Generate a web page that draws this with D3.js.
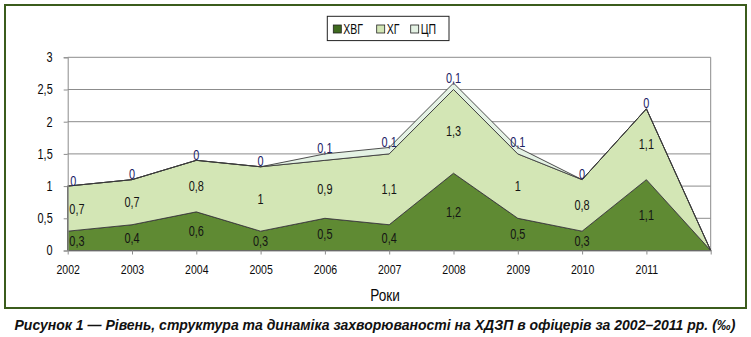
<!DOCTYPE html>
<html>
<head>
<meta charset="utf-8">
<script src="https://cdn.jsdelivr.net/npm/d3@7"></script>
<style>
  html, body { margin: 0; padding: 0; background: #fff; }
  svg { display: block; }
  text { font-family: "Liberation Sans", Arial, sans-serif; }
</style>
</head>
<body>
<svg id="chart" width="751" height="337"></svg>
<script>
// Years on the category axis (the final empty slot closes the areas at zero)
const years = ["2002", "2003", "2004", "2005", "2006", "2007", "2008", "2009", "2010", "2011", ""];
// Stacked series, ‰
const hvg = [0.3, 0.4, 0.6, 0.3, 0.5, 0.4, 1.2, 0.5, 0.3, 1.1, 0];
const hg  = [0.7, 0.7, 0.8, 1.0, 0.9, 1.1, 1.3, 1.0, 0.8, 1.1, 0];
const cp  = [0,   0,   0,   0,   0.1, 0.1, 0.1, 0.1, 0,   0,   0];
const seriesNames = ["ХВГ", "ХГ", "ЦП"];
const seriesColors = ["#5f8a33", "#d3e6b5", "#e4f2e4"];
const yTicks = [0, 0.5, 1, 1.5, 2, 2.5, 3];
const axisTitle = "Роки";
const caption = "Рисунок 1 — Рівень, структура та динаміка захворюваності на ХДЗП в офіцерів за 2002–2011 рр. (‰)";

const svg = d3.select("#chart");
const fmt = v => String(v).replace(".", ",");

// Narrow the glyphs of a text selection horizontally
function condense(sel, f) {
  sel.each(function () {
    const len = this.getComputedTextLength();
    if (len > 0) {
      d3.select(this).attr("textLength", len * f).attr("lengthAdjust", "spacingAndGlyphs");
    }
  });
  return sel;
}

// Outer frame
svg.append("rect")
  .attr("x", 5).attr("y", 5).attr("width", 741).attr("height", 303)
  .attr("fill", "none").attr("stroke", "#3b5c1c").attr("stroke-width", 2);

const rows = years.map((y, i) => ({ i, ХВГ: hvg[i], ХГ: hg[i], ЦП: cp[i] }));
const stacked = d3.stack().keys(seriesNames)(rows);

const x = d3.scalePoint().domain(d3.range(years.length)).range([67.7, 710.7]);
const y = d3.scaleLinear().domain([0, 3]).range([250.5, 57.3]);

// Grid lines
svg.append("g").selectAll("line").data(yTicks.filter(t => t > 0)).join("line")
  .attr("x1", 67.7).attr("x2", 710.7)
  .attr("y1", d => y(d)).attr("y2", d => y(d))
  .attr("stroke", "#8c8c8c").attr("stroke-width", 1);
// Plot area right edge
svg.append("line")
  .attr("x1", 710.7).attr("x2", 710.7).attr("y1", y(3)).attr("y2", y(0))
  .attr("stroke", "#8c8c8c");

// Stacked areas
const area = d3.area()
  .x(d => x(d.data.i))
  .y0(d => y(d[0]))
  .y1(d => y(d[1]));
svg.append("g").selectAll("path").data(stacked).join("path")
  .attr("d", area)
  .attr("fill", (d, i) => seriesColors[i])
  .attr("stroke", "#3a3a3a").attr("stroke-width", 0.9)
  .attr("stroke-linejoin", "round");

// Y axis
const yAxis = svg.append("g").attr("transform", "translate(67.7,0)")
  .call(d3.axisLeft(y).tickValues(yTicks).tickFormat(fmt).tickSize(4).tickPadding(11));
yAxis.select(".domain").attr("stroke", "#8c8c8c");
yAxis.selectAll(".tick line").attr("stroke", "#8c8c8c");
condense(yAxis.selectAll(".tick text").attr("font-size", 14).attr("fill", "#0a0a0a")
  .style("font-family", '"Liberation Sans", Arial, sans-serif'), 0.78);

// X axis
const xAxis = svg.append("g").attr("transform", `translate(0,${y(0)})`)
  .call(d3.axisBottom(x).tickFormat(i => years[i]).tickSize(4).tickPadding(10).tickSizeOuter(0));
xAxis.select(".domain").attr("stroke", "#8c8c8c");
xAxis.selectAll(".tick line").attr("stroke", "#8c8c8c");
condense(xAxis.selectAll(".tick text").attr("font-size", 13.5).attr("fill", "#0a0a0a")
  .style("font-family", '"Liberation Sans", Arial, sans-serif'), 0.78);

condense(svg.append("text").attr("x", 385).attr("y", 295).attr("text-anchor", "middle")
  .attr("dominant-baseline", "central").attr("font-size", 17).attr("fill", "#0a0a0a")
  .text(axisTitle), 0.8);

// Data labels (skip the closing empty slot)
const labelG = svg.append("g");
stacked.forEach((s, si) => {
  s.forEach(d => {
    if (d.data.i === years.length - 1) return;
    const v = d[1] - d[0];
    const cy = si === 2 ? y(d[1]) - 5.5 : (y(d[0]) + y(d[1])) / 2;
    const t = labelG.append("text")
      .attr("y", cy).attr("dominant-baseline", "central").attr("text-anchor", "middle")
      .attr("font-size", 14).attr("fill", si === 2 ? "#1d2466" : "#141414")
      .text(fmt(Math.round(v * 10) / 10));
    condense(t, 0.78);
    const w = t.node().getComputedTextLength() * 0.78;
    t.attr("x", Math.max(x(d.data.i), 71 + w / 2));
  });
});

// Legend
const lg = svg.append("g");
lg.append("rect").attr("x", 327.3).attr("y", 16.3).attr("width", 121.7).attr("height", 24.3)
  .attr("fill", "#fff").attr("stroke", "#222").attr("stroke-width", 1);
const legX = [333.3, 376.7, 410.7];
seriesNames.forEach((n, i) => {
  lg.append("rect").attr("x", legX[i]).attr("y", 25).attr("width", 8).attr("height", 8)
    .attr("fill", i === 0 ? "#3f6a1f" : seriesColors[i]).attr("stroke", "#222").attr("stroke-width", 0.8);
  condense(lg.append("text").attr("x", legX[i] + 10).attr("y", 29.2).attr("dominant-baseline", "central")
    .attr("font-size", 14).attr("fill", "#0a0a0a").text(n), 0.75);
});

// Caption
svg.append("text").attr("x", 375).attr("y", 325).attr("text-anchor", "middle")
  .attr("dominant-baseline", "central").attr("font-size", 14)
  .attr("font-weight", "bold").attr("font-style", "italic").attr("fill", "#111")
  .attr("textLength", 721).attr("lengthAdjust", "spacingAndGlyphs")
  .text(caption);
</script>
</body>
</html>
